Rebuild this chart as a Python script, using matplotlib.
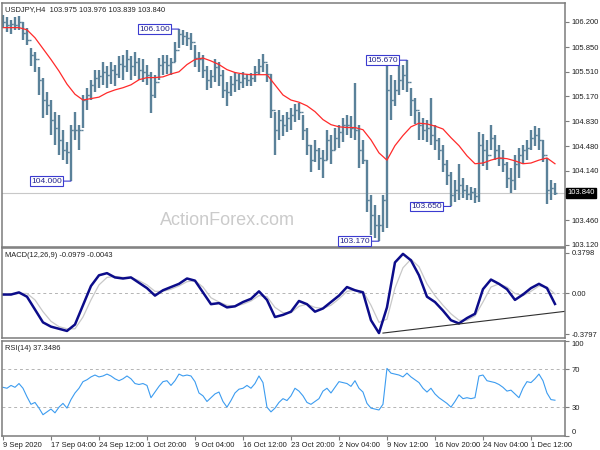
import matplotlib.pyplot as plt
import numpy as np

plt.rcParams['font.family'] = ['Liberation Sans', 'DejaVu Sans']

# USDJPY H4, bars (high / low / close)
high = [
    106.30, 106.27, 106.23, 106.26, 106.28, 106.20, 106.12, 105.84, 105.79, 105.57,
    105.43, 105.23, 105.12, 104.96, 104.92, 104.71, 104.54, 104.78, 104.96, 104.78,
    105.19, 105.29, 105.40, 105.54, 105.54, 105.65, 105.59, 105.65, 105.61, 105.73,
    105.74, 105.81, 105.73, 105.79, 105.70, 105.68, 105.61, 105.51, 105.47, 105.70,
    105.74, 105.74, 105.70, 105.92, 106.10, 106.09, 106.06, 106.05, 105.88, 105.79,
    105.74, 105.59, 105.54, 105.68, 105.65, 105.54, 105.37, 105.45, 105.51, 105.48,
    105.51, 105.48, 105.50, 105.59, 105.68, 105.76, 105.62, 105.48, 104.96, 104.98,
    104.92, 104.96, 105.01, 105.07, 105.08, 104.92, 104.74, 104.50, 104.57, 104.46,
    104.43, 104.71, 104.64, 104.74, 104.78, 104.87, 104.92, 104.90, 105.36, 104.78,
    104.57, 104.29, 103.81, 103.67, 103.53, 103.81, 105.63, 105.47, 105.40, 105.59,
    105.61, 105.67, 105.29, 105.15, 104.96, 104.87, 104.85, 105.15, 104.78, 104.60,
    104.50, 104.29, 104.13, 104.02, 104.23, 104.05, 103.94, 103.92, 103.91, 104.68,
    104.65, 104.57, 104.78, 104.64, 104.50, 104.43, 104.27, 104.18, 104.36, 104.46,
    104.50, 104.57, 104.71, 104.76, 104.74, 104.57, 104.32, 104.02, 103.98]
low = [
    106.12, 106.06, 106.03, 106.09, 106.09, 105.95, 105.88, 105.59, 105.51, 105.19,
    104.87, 104.92, 104.64, 104.50, 104.36, 104.29, 104.23, 104.00, 104.57, 104.43,
    104.74, 104.98, 105.12, 105.23, 105.29, 105.33, 105.29, 105.34, 105.32, 105.43,
    105.40, 105.51, 105.40, 105.45, 105.40, 105.37, 105.33, 104.94, 105.15, 105.40,
    105.47, 105.48, 105.47, 105.65, 105.84, 105.88, 105.87, 105.81, 105.57, 105.51,
    105.43, 105.26, 105.29, 105.37, 105.32, 105.15, 105.04, 105.18, 105.23, 105.26,
    105.29, 105.32, 105.32, 105.37, 105.47, 105.51, 105.37, 104.87, 104.36, 104.57,
    104.63, 104.68, 104.71, 104.82, 104.85, 104.57, 104.36, 104.13, 104.27, 104.16,
    104.05, 104.29, 104.23, 104.43, 104.46, 104.54, 104.64, 104.60, 104.57, 104.18,
    104.23, 103.58, 103.26, 103.22, 103.17, 103.30, 103.35, 104.85, 105.04, 105.19,
    105.26, 105.23, 104.90, 104.79, 104.57, 104.57, 104.54, 104.50, 104.43, 104.29,
    104.13, 103.94, 103.65, 103.71, 103.74, 103.77, 103.74, 103.74, 103.70, 103.71,
    104.21, 104.16, 104.43, 104.29, 104.21, 104.13, 103.91, 103.84, 103.88, 104.05,
    104.23, 104.29, 104.43, 104.49, 104.43, 104.27, 103.69, 103.74, 103.81]
close = [
    106.20, 106.15, 106.17, 106.15, 106.20, 106.05, 105.95, 105.74, 105.68, 105.40,
    105.12, 105.05, 104.85, 104.74, 104.57, 104.43, 104.40, 104.71, 104.71, 104.71,
    105.12, 105.19, 105.33, 105.43, 105.45, 105.51, 105.47, 105.54, 105.48, 105.62,
    105.59, 105.68, 105.59, 105.65, 105.54, 105.51, 105.47, 105.19, 105.37, 105.61,
    105.65, 105.61, 105.65, 105.81, 106.03, 106.01, 105.98, 105.92, 105.70, 105.68,
    105.54, 105.40, 105.45, 105.57, 105.47, 105.26, 105.23, 105.34, 105.40, 105.37,
    105.43, 105.40, 105.43, 105.51, 105.59, 105.65, 105.48, 104.98, 104.71, 104.85,
    104.78, 104.87, 104.92, 104.98, 104.96, 104.71, 104.50, 104.29, 104.43, 104.32,
    104.29, 104.57, 104.43, 104.60, 104.68, 104.78, 104.78, 104.74, 104.71, 104.43,
    104.29, 103.74, 103.53, 103.40, 103.40, 103.74, 105.26, 105.12, 105.26, 105.40,
    105.47, 105.37, 105.12, 104.98, 104.78, 104.71, 104.74, 104.64, 104.57, 104.43,
    104.23, 104.09, 103.81, 103.88, 103.95, 103.88, 103.82, 103.85, 103.80, 104.50,
    104.43, 104.36, 104.60, 104.43, 104.32, 104.23, 104.05, 104.02, 104.23, 104.36,
    104.43, 104.46, 104.60, 104.64, 104.57, 104.36, 103.88, 103.91, 103.84]

# moving average, MACD and signal, read at every second bar
ma = [
    106.12, 106.12, 106.12, 106.09, 105.98, 105.83, 105.68, 105.52, 105.34, 105.20,
    105.12, 105.14, 105.16, 105.22, 105.26, 105.29, 105.33, 105.40, 105.43, 105.43,
    105.44, 105.48, 105.51, 105.61, 105.68, 105.70, 105.66, 105.61, 105.54, 105.50,
    105.48, 105.47, 105.47, 105.47, 105.33, 105.19, 105.12, 105.09, 105.04, 104.96,
    104.85, 104.78, 104.75, 104.74, 104.74, 104.71, 104.57, 104.39, 104.29, 104.49,
    104.63, 104.75, 104.80, 104.79, 104.76, 104.72, 104.60, 104.49, 104.35, 104.24,
    104.25, 104.29, 104.32, 104.31, 104.28, 104.24, 104.25, 104.29, 104.32, 104.24]
macd = [
    -0.01, -0.01, 0.01, -0.03, -0.15, -0.27, -0.31, -0.33, -0.35, -0.29,
    -0.11, 0.07, 0.17, 0.19, 0.15, 0.14, 0.15, 0.10, 0.05, -0.02,
    0.03, 0.06, 0.09, 0.14, 0.12, 0.01, -0.10, -0.09, -0.13, -0.12,
    -0.08, -0.05, 0.02, -0.06, -0.22, -0.20, -0.17, -0.07, -0.10, -0.17,
    -0.14, -0.08, -0.02, 0.06, 0.03, 0.01, -0.25, -0.37, -0.13, 0.29,
    0.37, 0.31, 0.17, -0.03, -0.08, -0.16, -0.25, -0.28, -0.23, -0.19,
    0.04, 0.13, 0.09, 0.04, -0.06, -0.01, 0.05, 0.09, 0.05, -0.0979]
signal = [
    0.00, -0.01, 0.00, 0.00, -0.06, -0.17, -0.26, -0.31, -0.33, -0.33,
    -0.22, -0.06, 0.08, 0.15, 0.16, 0.15, 0.15, 0.12, 0.08, 0.02,
    0.02, 0.04, 0.07, 0.11, 0.12, 0.06, -0.04, -0.08, -0.11, -0.12,
    -0.10, -0.07, -0.02, -0.03, -0.13, -0.18, -0.18, -0.12, -0.10, -0.13,
    -0.14, -0.11, -0.05, 0.02, 0.03, 0.02, -0.11, -0.27, -0.24, 0.05,
    0.24, 0.32, 0.25, 0.09, -0.02, -0.11, -0.19, -0.25, -0.25, -0.21,
    -0.08, 0.06, 0.09, 0.06, 0.00, -0.02, 0.02, 0.07, 0.06, -0.0043]
rsi = [
    51, 50, 53, 51, 55, 50, 41, 33, 35, 29,
    22, 25, 28, 24, 30, 34, 29, 38, 45, 50,
    57, 59, 62, 64, 62, 63, 65, 63, 60, 58,
    60, 63, 60, 55, 54, 55, 53, 40, 46, 52,
    57, 58, 53, 58, 65, 63, 64, 63, 57, 45,
    42, 36, 40, 44, 46, 36, 30, 37, 45, 49,
    50, 53, 50, 55, 63, 56, 30, 25, 29, 35,
    39, 37, 42, 50, 47, 42, 35, 33, 36, 39,
    47, 50, 45, 51, 57, 56, 55, 52, 58, 50,
    46, 34, 29, 28, 27, 33, 71, 66, 65, 64,
    62, 66, 62, 59, 56, 50, 46, 50, 44, 40,
    37, 34, 30, 36, 43, 39, 40, 39, 40, 63,
    64, 58, 57, 56, 54, 51, 47, 48, 44, 40,
    50, 57, 56, 60, 65, 58, 45, 38, 37.35]

dates = ['9 Sep 2020', '17 Sep 04:00', '24 Sep 12:00', '1 Oct 20:00', '9 Oct 04:00',
         '16 Oct 12:00', '23 Oct 20:00', '2 Nov 04:00', '9 Nov 12:00', '16 Nov 20:00',
         '24 Nov 04:00', '1 Dec 12:00']
date_bars = [0, 12, 24, 36, 48, 60, 72, 84, 96, 108, 120, 132]
price_ticks = [106.2, 105.85, 105.51, 105.17, 104.83, 104.48, 104.14, 103.80, 103.46, 103.12]

mark_bars = [17, 44, 101, 94, 112]
mark_vals = [104.000, 106.100, 105.670, 103.170, 103.650]
last_price = 103.840
trend_bars = [95, 140.5]
trend_vals = [-0.37, -0.167]

bar_col = '#5a8199'
frame_col = '#7c7c7c'
txt_col = '#202020'

n = len(close)
idx = np.arange(n)
opn = [close[0]] + close[:-1]

fig = plt.figure(figsize=(6, 4.5), dpi=100)
ax1 = fig.add_axes([0.0033, 0.4511, 0.9383, 0.5422])
ax2 = fig.add_axes([0.0033, 0.2489, 0.9383, 0.2])
ax3 = fig.add_axes([0.0033, 0.0322, 0.9383, 0.21])

for ax in (ax1, ax2, ax3):
    ax.set_xlim(-0.25, 140.5)
    ax.yaxis.tick_right()
    ax.tick_params(axis='y', length=3, width=0.8, pad=2, labelsize=5.5,
                   colors=frame_col, labelcolor=txt_col)
    ax.tick_params(axis='x', length=3, width=0.8, pad=1.5, labelsize=5.5,
                   colors=frame_col, labelcolor=txt_col)
    for sp in ax.spines.values():
        sp.set_color(frame_col)
        sp.set_linewidth(1.1)

# price panel
ax1.vlines(idx, low, high, color=bar_col, lw=1.7)
ax1.hlines(opn, idx - 0.45, idx, color=bar_col, lw=1)
ax1.hlines(close, idx, idx + 0.45, color=bar_col, lw=1)
ax1.plot(idx[::2], ma, color='#ff2a2a', lw=0.9)
ax1.axhline(last_price, color='#c8c8c8', lw=0.8, zorder=0)
ax1.set_ylim(103.09, 106.46)
ax1.set_yticks(price_ticks)
# the 103.800 label sits under the current-price box
ax1.set_yticklabels(['' if t == 103.80 else f'{t:.3f}' for t in price_ticks])
ax1.set_xticks([])

for b, v in zip(mark_bars, mark_vals):
    ax1.annotate(f'{v:.3f}', xy=(b, v), xytext=(-6.5, 0), textcoords='offset points',
                 ha='right', va='center', fontsize=6, color='#22228a',
                 bbox=dict(boxstyle='square,pad=0.15', fc='white', ec='#3b3bd0', lw=0.8),
                 arrowprops=dict(arrowstyle='-', color='#3b3bd0', lw=0.8,
                                 shrinkA=0, shrinkB=0))

ax1.text(1.004, last_price, f'{last_price:.3f}', transform=ax1.get_yaxis_transform(),
         ha='left', va='center', fontsize=5.5, color='white', zorder=10, clip_on=False,
         bbox=dict(boxstyle='square,pad=0.2', fc='black', ec='black'))
ax1.text(0.006, 0.988, 'USDJPY,H4  103.975 103.976 103.839 103.840',
         transform=ax1.transAxes, va='top', fontsize=5.4, color=txt_col)
ax1.text(0.40, 0.09, 'ActionForex.com', transform=ax1.transAxes, ha='center',
         va='baseline', fontsize=13, color='#cbcbcb')

# MACD panel
ax2.axhline(0, color='#b4b4b4', lw=0.7, ls=(0, (3, 3)))
ax2.plot(idx[::2], signal, color='#c8c8c8', lw=0.9)
ax2.plot(idx[::2], macd, color='#0c0c8a', lw=1.8)
ax2.plot(trend_bars, trend_vals, color='#303030', lw=0.8)
ax2.set_ylim(-0.416, 0.425)
ax2.set_yticks([0.3798, 0, -0.3797])
ax2.set_yticklabels(['0.3798', '0.00', '-0.3797'])
ax2.set_xticks([])
ax2.text(0.006, 0.96, 'MACD(12,26,9) -0.0979 -0.0043', transform=ax2.transAxes,
         va='top', fontsize=5.4, color=txt_col)

# RSI panel
ax3.axhline(70, color='#b4b4b4', lw=0.7, ls=(0, (3, 3)))
ax3.axhline(30, color='#b4b4b4', lw=0.7, ls=(0, (3, 3)))
ax3.plot(idx, rsi, color='#3c9cf0', lw=0.8)
ax3.set_ylim(0, 100)
ax3.set_yticks([0, 30, 70, 100])
ax3.set_yticklabels(['0', '30', '70', '100'])
ylabs = ax3.get_yticklabels()
ylabs[0].set_va('bottom')
ylabs[-1].set_va('top')
ax3.text(0.006, 0.96, 'RSI(14) 37.3486', transform=ax3.transAxes,
         va='top', fontsize=5.4, color=txt_col)
ax3.set_xticks(date_bars)
ax3.set_xticklabels(dates, ha='left')

fig.savefig('out.png', dpi=100, facecolor='white')
